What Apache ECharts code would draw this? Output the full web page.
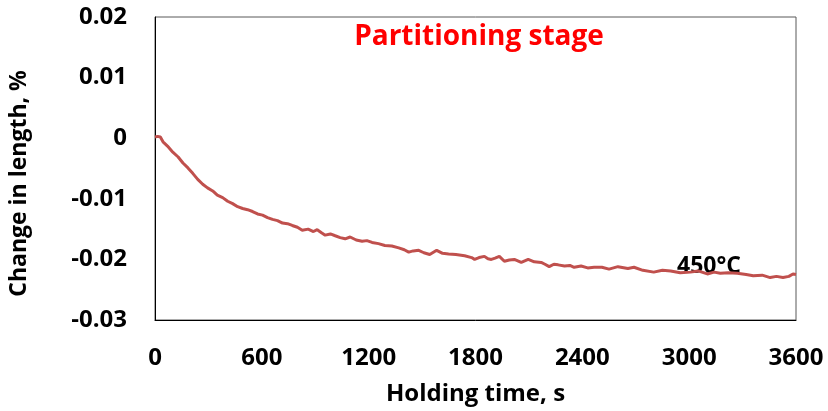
<!DOCTYPE html>
<html>
<head>
<meta charset="utf-8">
<script src="https://cdn.jsdelivr.net/npm/echarts@6/dist/echarts.min.js"></script>
<style>
  html, body { margin: 0; padding: 0; background: #fff; }
  #chart { width: 828px; height: 411px; }
</style>
</head>
<body>
<div id="chart"></div>
<script>
// Dilatometer record during isothermal holding at 450°C
const holdingTime = [
  0, 15, 30, 45, 70, 100, 130, 157, 185, 212, 240, 268, 295, 324, 350, 380, 408, 436, 464, 492,
  520, 548, 576, 604, 632, 660, 688, 716, 744, 771, 800, 827, 860, 890, 911, 935, 956, 985, 1012, 1040,
  1068, 1096, 1130, 1163, 1190, 1219, 1255, 1291, 1330, 1369, 1400, 1425, 1450, 1481, 1510, 1543, 1582, 1615, 1649, 1690,
  1739, 1778, 1795, 1820, 1850, 1870, 1889, 1910, 1934, 1962, 1990, 2018, 2057, 2096, 2130, 2169, 2190, 2214, 2240, 2264,
  2300, 2330, 2354, 2393, 2430, 2466, 2510, 2550, 2600, 2656, 2690, 2740, 2801, 2850, 2896, 2950, 3007, 3050, 3102, 3140,
  3175, 3220, 3270, 3320, 3360, 3410, 3455, 3490, 3527, 3560, 3583, 3600
];
const lengthChange = [
  0.0002, 0.0003, 0.0002, -0.0006, -0.0013, -0.0023, -0.0031, -0.0041, -0.0049, -0.0058, -0.0068, -0.0076, -0.0082, -0.0087, -0.0094, -0.0098, -0.0104, -0.0108, -0.0113, -0.0116,
  -0.0118, -0.0121, -0.0125, -0.0127, -0.0131, -0.0134, -0.0136, -0.0140, -0.0141, -0.0144, -0.0147, -0.0152, -0.0150, -0.0154, -0.0151, -0.0156, -0.0160, -0.0158, -0.0161, -0.0164,
  -0.0166, -0.0163, -0.0168, -0.0170, -0.0169, -0.0172, -0.0174, -0.0177, -0.0178, -0.0181, -0.0184, -0.0188, -0.0186, -0.0185, -0.0189, -0.0192, -0.0185, -0.0190, -0.0191, -0.0192,
  -0.0194, -0.0197, -0.0200, -0.0197, -0.0195, -0.0199, -0.0200, -0.0198, -0.0195, -0.0203, -0.0201, -0.0200, -0.0205, -0.0200, -0.0204, -0.0205, -0.0208, -0.0212, -0.0208, -0.0209,
  -0.0211, -0.0210, -0.0213, -0.0211, -0.0214, -0.0213, -0.0213, -0.0216, -0.0212, -0.0215, -0.0213, -0.0218, -0.0221, -0.0218, -0.0219, -0.0222, -0.0221, -0.0219, -0.0224, -0.0221,
  -0.0223, -0.0222, -0.0223, -0.0225, -0.0227, -0.0226, -0.0230, -0.0228, -0.0230, -0.0228, -0.0224, -0.0225
];
const xTicks = [0, 600, 1200, 1800, 2400, 3000, 3600];
const yTicks = [-0.03, -0.02, -0.01, 0, 0.01, 0.02];

const FONT = '"Open Sans"';
const chart = echarts.init(document.getElementById('chart'));

chart.setOption({
  animation: false,
  backgroundColor: '#ffffff',
  grid: {
    left: 152, right: 32, top: 17, bottom: 84,
    show: true, borderColor: '#595959', borderWidth: 1, backgroundColor: 'transparent'
  },
  xAxis: {
    type: 'value',
    min: xTicks[0], max: xTicks[xTicks.length - 1], interval: 600,
    name: 'Holding time, s', nameLocation: 'middle', nameGap: 62,
    nameTextStyle: { fontFamily: FONT, fontWeight: 'bold', fontSize: 24, color: '#000' },
    axisLine: { show: true, onZero: false, lineStyle: { color: '#000', width: 1 } },
    axisTick: { show: false },
    splitLine: { show: false },
    axisLabel: {
      margin: 26, fontFamily: FONT, fontWeight: 'bold', fontSize: 24, color: '#000',
      formatter: v => String(v)
    }
  },
  yAxis: {
    type: 'value',
    min: yTicks[0], max: yTicks[yTicks.length - 1], interval: 0.01,
    name: 'Change in length, %', nameLocation: 'middle', nameGap: 124,
    nameTextStyle: {
      fontFamily: FONT, fontWeight: 'bold', fontSize: 23, color: '#000',
      padding: [0, 30, 0, 0]
    },
    axisLine: { show: true, onZero: false, lineStyle: { color: '#000', width: 1 } },
    axisTick: { show: false },
    splitLine: { show: false },
    axisLabel: {
      margin: 28, fontFamily: FONT, fontWeight: 'bold', fontSize: 24, color: '#000',
      formatter: v => (Math.abs(v) < 1e-9 ? '0' : v.toFixed(2))
    }
  },
  graphic: [
    {
      type: 'text', x: 479, y: 37,
      style: {
        text: 'Partitioning stage', fill: '#ff0000', fontFamily: FONT, fontWeight: 'bold', fontSize: 28,
        textAlign: 'center', textVerticalAlign: 'middle'
      }
    },
    {
      type: 'text', x: 709, y: 266,
      style: {
        text: '450°C', fill: '#000', fontFamily: FONT, fontWeight: 'bold', fontSize: 23,
        textAlign: 'center', textVerticalAlign: 'middle'
      }
    }
  ],
  series: [{
    type: 'line',
    data: holdingTime.map((t, i) => [t, lengthChange[i]]),
    showSymbol: false,
    symbol: 'none',
    lineStyle: { color: '#C0504D', width: 3 },
    z: 3
  }]
});
</script>
</body>
</html>
